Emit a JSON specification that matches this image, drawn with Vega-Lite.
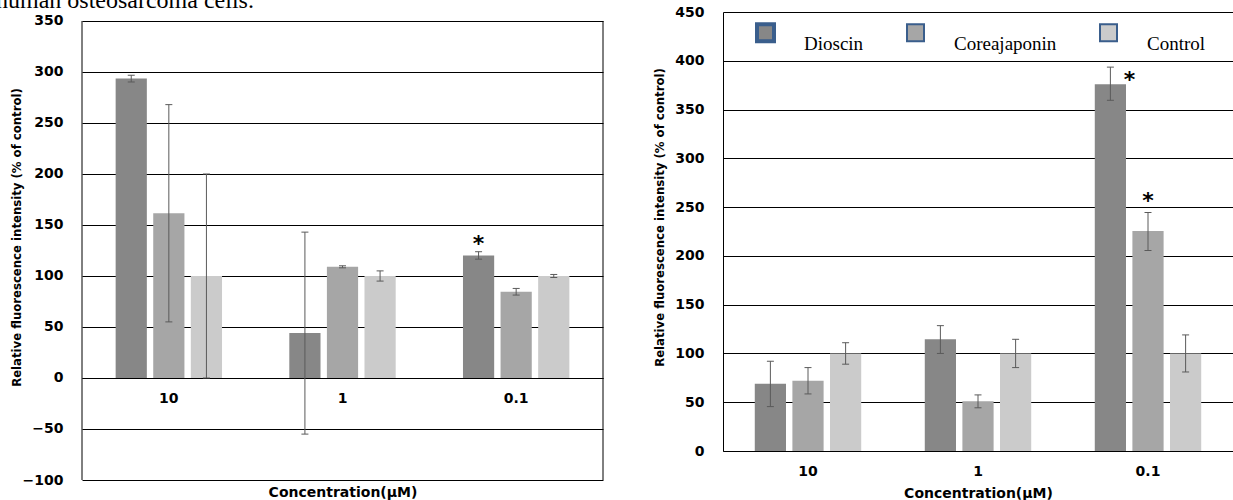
{
  "$schema": "https://vega.github.io/schema/vega-lite/v6.json",
  "autosize": {"type": "pad"},
  "padding": {"left": -4, "top": -12, "right": 0, "bottom": 0},
  "background": "white",
  "title": {"text": "human osteosarcoma cells.", "anchor": "start", "frame": "bounds", "orient": "top", "offset": -26.5, "baseline": "alphabetic", "dx": -14, "font": "Liberation Serif", "fontSize": 24, "fontWeight": "normal", "color": "#000"},
  "config": {
    "view": {"stroke": null},
    "axis": {
      "labelFont": "DejaVu Sans", "labelFontWeight": "bold", "labelFontSize": 14, "labelColor": "#000",
      "titleFont": "DejaVu Sans", "titleFontWeight": "bold", "titleFontSize": 14, "titleColor": "#000",
      "domainColor": "#000", "domainWidth": 1, "gridColor": "#000", "gridOpacity": 1, "gridWidth": 1, "ticks": false
    }
  },
  "datasets": {
    "left": [
      {"conc": "10", "series": "Dioscin", "value": 293.5, "lo": 290.2, "hi": 296.8},
      {"conc": "10", "series": "Coreajaponin", "value": 161.5, "lo": 55, "hi": 268},
      {"conc": "10", "series": "Control", "value": 100, "lo": 0, "hi": 200},
      {"conc": "1", "series": "Dioscin", "value": 44, "lo": -55, "hi": 143},
      {"conc": "1", "series": "Coreajaponin", "value": 109, "lo": 108, "hi": 110},
      {"conc": "1", "series": "Control", "value": 100, "lo": 95, "hi": 105},
      {"conc": "0.1", "series": "Dioscin", "value": 120, "lo": 116.5, "hi": 123.8},
      {"conc": "0.1", "series": "Coreajaponin", "value": 84.5, "lo": 81.3, "hi": 87.8},
      {"conc": "0.1", "series": "Control", "value": 100, "lo": 98.5, "hi": 101.5}
    ],
    "leftStars": [
      {"conc": "0.1", "series": "Dioscin", "at": 131, "label": "*"}
    ],
    "leftEdgeStart": [{"conc": "10", "from": -100, "to": 350}],
    "leftEdgeEnd": [{"conc": "0.1", "from": -100, "to": 350}],
    "right": [
      {"conc": "10", "series": "Dioscin", "value": 69, "lo": 45.5, "hi": 92},
      {"conc": "10", "series": "Coreajaponin", "value": 72, "lo": 58.5, "hi": 85.5},
      {"conc": "10", "series": "Control", "value": 100, "lo": 89, "hi": 111},
      {"conc": "1", "series": "Dioscin", "value": 114.5, "lo": 100, "hi": 128.5},
      {"conc": "1", "series": "Coreajaponin", "value": 51, "lo": 44.3, "hi": 57.5},
      {"conc": "1", "series": "Control", "value": 100, "lo": 85.5, "hi": 114.5},
      {"conc": "0.1", "series": "Dioscin", "value": 376, "lo": 359.5, "hi": 393.5},
      {"conc": "0.1", "series": "Coreajaponin", "value": 225.5, "lo": 205.5, "hi": 244.5},
      {"conc": "0.1", "series": "Control", "value": 100, "lo": 81, "hi": 119}
    ],
    "rightStars": [
      {"conc": "0.1", "series": "Dioscin", "at": 380, "label": "*"},
      {"conc": "0.1", "series": "Coreajaponin", "at": 256, "label": "*"}
    ]
  },
  "spacing": 49,
  "resolve": {"scale": {"x": "independent", "y": "independent", "color": "independent", "xOffset": "independent"}, "legend": {"color": "independent"}},
  "hconcat": [
    {
      "width": 521,
      "height": 468,
      "layer": [
        {
          "data": {"name": "left"},
          "mark": {"type": "bar"},
          "encoding": {
            "x": {"field": "conc", "type": "nominal", "sort": ["10", "1", "0.1"],
              "scale": {"paddingInner": 0, "paddingOuter": 0},
              "axis": {"title": "Concentration(μM)", "labelAngle": 0, "offset": -102, "labelPadding": 13, "titleY": 114, "titleBaseline": "middle", "domain": true}},
            "xOffset": {"field": "series", "type": "nominal", "sort": ["Dioscin", "Coreajaponin", "Control"],
              "scale": {"paddingInner": 0.17, "paddingOuter": 0.895}},
            "y": {"field": "value", "type": "quantitative",
              "scale": {"domain": [-100, 358.8], "nice": false, "zero": false},
              "axis": {"values": [-100, -50, 0, 50, 100, 150, 200, 250, 300, 350], "grid": true, "domain": false,
                "labelPadding": 19, "title": "Relative fluorescence intensity (% of control)",
                "titleFont": "Liberation Sans Narrow, DejaVu Sans Condensed, Arial Narrow, sans-serif", "titleFontSize": 13,
                "titleX": -66, "titleY": 225, "titleBaseline": "middle"}},
            "color": {"field": "series", "type": "nominal", "legend": null,
              "scale": {"domain": ["Dioscin", "Coreajaponin", "Control"], "range": ["#878787", "#a6a6a6", "#cbcbcb"]}}
          }
        },
        {
          "data": {"name": "left"},
          "mark": {"type": "rule", "color": "#5a5a5a", "strokeWidth": 1},
          "encoding": {
            "x": {"field": "conc", "type": "nominal", "sort": ["10", "1", "0.1"]},
            "xOffset": {"field": "series", "type": "nominal", "sort": ["Dioscin", "Coreajaponin", "Control"]},
            "y": {"field": "lo", "type": "quantitative"}, "y2": {"field": "hi"}}
        },
        {
          "data": {"name": "left"},
          "mark": {"type": "tick", "color": "#5a5a5a", "thickness": 1, "size": 7, "opacity": 1},
          "encoding": {
            "x": {"field": "conc", "type": "nominal", "sort": ["10", "1", "0.1"]},
            "xOffset": {"field": "series", "type": "nominal", "sort": ["Dioscin", "Coreajaponin", "Control"]},
            "y": {"field": "lo", "type": "quantitative"}}
        },
        {
          "data": {"name": "left"},
          "mark": {"type": "tick", "color": "#5a5a5a", "thickness": 1, "size": 7, "opacity": 1},
          "encoding": {
            "x": {"field": "conc", "type": "nominal", "sort": ["10", "1", "0.1"]},
            "xOffset": {"field": "series", "type": "nominal", "sort": ["Dioscin", "Coreajaponin", "Control"]},
            "y": {"field": "hi", "type": "quantitative"}}
        },
        {
          "data": {"name": "leftStars"},
          "mark": {"type": "text", "font": "DejaVu Sans", "fontWeight": "bold", "fontSize": 22, "baseline": "middle", "color": "#000"},
          "encoding": {
            "x": {"field": "conc", "type": "nominal", "sort": ["10", "1", "0.1"]},
            "xOffset": {"field": "series", "type": "nominal", "sort": ["Dioscin", "Coreajaponin", "Control"]},
            "y": {"field": "at", "type": "quantitative"}, "text": {"field": "label"}}
        },
        {
          "data": {"name": "leftEdgeStart"},
          "mark": {"type": "rule", "color": "#000", "strokeWidth": 1},
          "encoding": {
            "x": {"field": "conc", "type": "nominal", "sort": ["10", "1", "0.1"], "bandPosition": 0},
            "y": {"field": "from", "type": "quantitative"}, "y2": {"field": "to"}}
        },
        {
          "data": {"name": "leftEdgeEnd"},
          "mark": {"type": "rule", "color": "#000", "strokeWidth": 1},
          "encoding": {
            "x": {"field": "conc", "type": "nominal", "sort": ["10", "1", "0.1"], "bandPosition": 1},
            "y": {"field": "from", "type": "quantitative"}, "y2": {"field": "to"}}
        }
      ]
    },
    {
      "width": 510,
      "height": 439,
      "encoding": {
        "x": {"field": "conc", "type": "nominal", "sort": ["10", "1", "0.1"],
          "scale": {"paddingInner": 0, "paddingOuter": 0},
          "axis": {"title": "Concentration(μM)", "labelAngle": 0, "labelPadding": 13, "titleY": 42, "titleBaseline": "middle", "domain": true}},
        "xOffset": {"field": "series", "type": "nominal", "sort": ["Dioscin", "Coreajaponin", "Control"],
          "scale": {"paddingInner": 0.17, "paddingOuter": 0.845}}
      },
      "layer": [
        {
          "data": {"name": "right"},
          "mark": {"type": "bar"},
          "encoding": {
            "y": {"field": "value", "type": "quantitative",
              "scale": {"domain": [0, 450], "nice": false},
              "axis": {"values": [0, 50, 100, 150, 200, 250, 300, 350, 400, 450], "grid": true, "domain": true,
                "labelPadding": 19, "title": "Relative fluorescence intensity (% of control)",
                "titleFont": "Liberation Sans Narrow, DejaVu Sans Condensed, Arial Narrow, sans-serif", "titleFontSize": 13,
                "titleX": -64, "titleY": 205, "titleBaseline": "middle"}},
            "color": {"field": "series", "type": "nominal",
              "scale": {"domain": ["Dioscin", "Coreajaponin", "Control"], "range": ["#878787", "#a6a6a6", "#cbcbcb"]},
              "legend": {
                "title": null, "orient": "none", "legendX": 33, "legendY": 11, "direction": "horizontal",
                "symbolType": "square", "symbolSize": 289, "symbolStrokeWidth": 2, "symbolStrokeColor": "#3a5e8c",
                "labelFont": "Liberation Serif", "labelFontSize": 19, "labelColor": "#000", "labelOffset": 29,
                "columnPadding": 39, "padding": 0,
                "encode": {
                  "symbols": {"update": {
                    "fill": {"signal": "datum.value === 'Dioscin' ? '#7f7f7f' : datum.value === 'Coreajaponin' ? '#c4bd97' : '#eeece1'"},
                    "stroke": {"value": "#3a5e8c"},
                    "strokeWidth": {"signal": "datum.value === 'Dioscin' ? 4 : 2"},
                    "opacity": {"value": 1}
                  }},
                  "labels": {"update": {"dy": {"value": 11}}}
                }
              }}
          }
        },
        {
          "data": {"name": "right"},
          "mark": {"type": "rule", "color": "#5a5a5a", "strokeWidth": 1},
          "encoding": {"y": {"field": "lo", "type": "quantitative"}, "y2": {"field": "hi"}}
        },
        {
          "data": {"name": "right"},
          "mark": {"type": "tick", "color": "#5a5a5a", "thickness": 1, "size": 7, "opacity": 1},
          "encoding": {"y": {"field": "lo", "type": "quantitative"}}
        },
        {
          "data": {"name": "right"},
          "mark": {"type": "tick", "color": "#5a5a5a", "thickness": 1, "size": 7, "opacity": 1},
          "encoding": {"y": {"field": "hi", "type": "quantitative"}}
        },
        {
          "data": {"name": "rightStars"},
          "transform": [{"filter": {"field": "series", "equal": "Dioscin"}}],
          "mark": {"type": "text", "font": "DejaVu Sans", "fontWeight": "bold", "fontSize": 22, "baseline": "middle", "color": "#000", "dx": 19},
          "encoding": {"y": {"field": "at", "type": "quantitative"}, "text": {"field": "label"}}
        },
        {
          "data": {"name": "rightStars"},
          "transform": [{"filter": {"field": "series", "equal": "Coreajaponin"}}],
          "mark": {"type": "text", "font": "DejaVu Sans", "fontWeight": "bold", "fontSize": 22, "baseline": "middle", "color": "#000"},
          "encoding": {"y": {"field": "at", "type": "quantitative"}, "text": {"field": "label"}}
        }
      ]
    }
  ]
}
